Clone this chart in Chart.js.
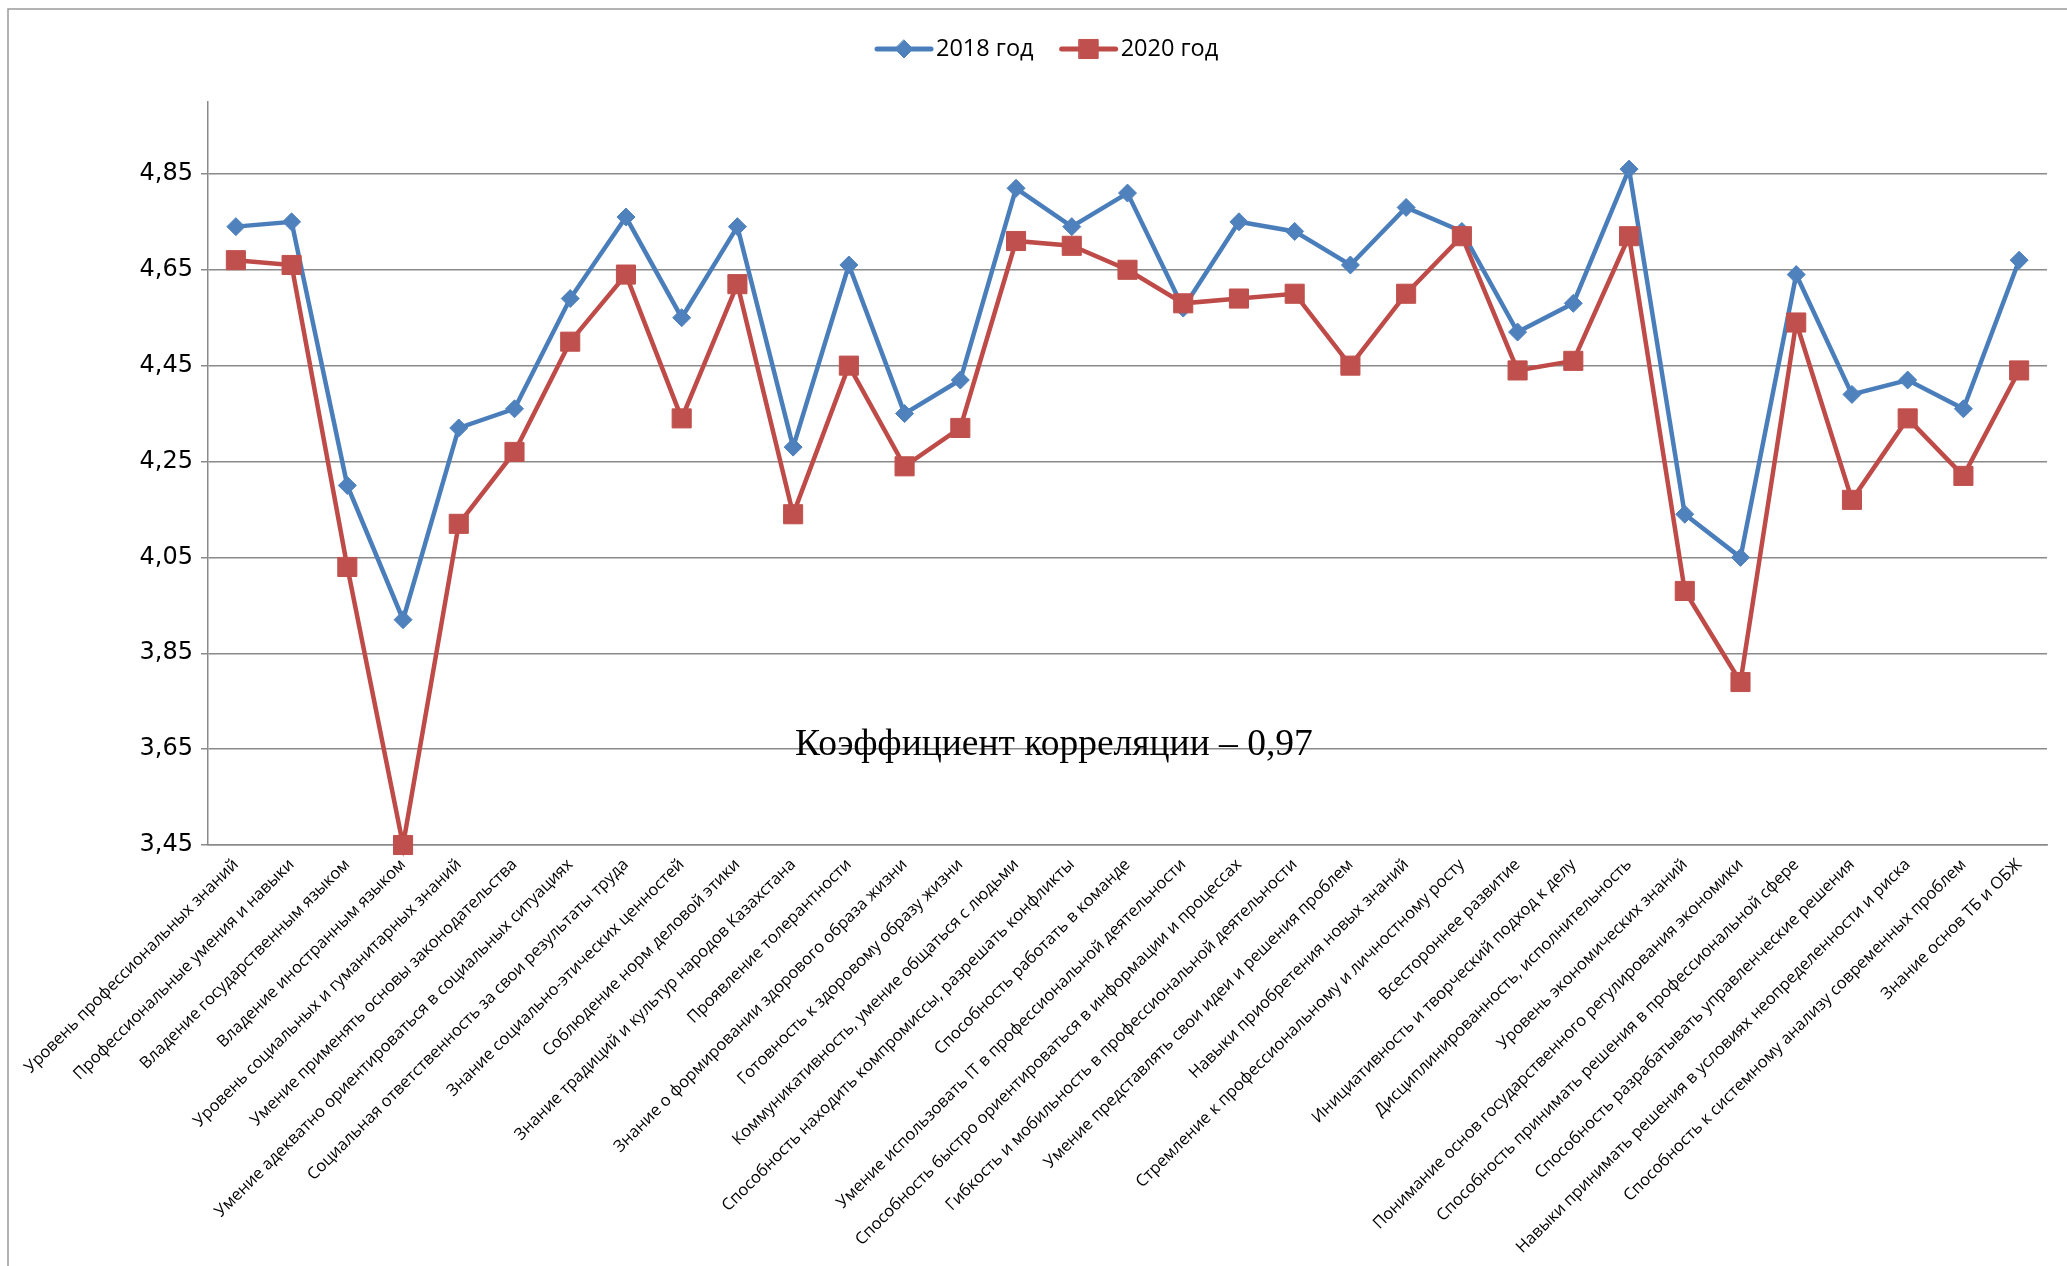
<!DOCTYPE html>
<html><head><meta charset="utf-8">
<script src="https://cdn.jsdelivr.net/npm/chart.js@4.4.1/dist/chart.umd.min.js"></script>
<style>html,body{margin:0;padding:0;background:#fff;overflow:hidden}</style>
</head><body>
<canvas id="c" width="2067" height="1266"></canvas>
<script>
const categories = [
  'Уровень профессиональных знаний',
  'Профессиональные умения и навыки',
  'Владение государственным языком',
  'Владение иностранным языком',
  'Уровень социальных и гуманитарных знаний',
  'Умение применять основы законодательства',
  'Умение адекватно ориентироваться в социальных ситуациях',
  'Социальная ответственность за свои результаты труда',
  'Знание социально-этических ценностей',
  'Соблюдение норм деловой этики',
  'Знание традиций и культур народов Казахстана',
  'Проявление толерантности',
  'Знание о формировании здорового образа жизни',
  'Готовность к здоровому образу жизни',
  'Коммуникативность, умение общаться с людьми',
  'Способность находить компромиссы, разрешать конфликты',
  'Способность работать в команде',
  'Умение использовать IT в профессиональной деятельности',
  'Способность быстро ориентироваться в информации и процессах',
  'Гибкость и мобильность в профессиональной деятельности',
  'Умение представлять свои идеи и решения проблем',
  'Навыки приобретения новых знаний',
  'Стремление к профессиональному и личностному росту',
  'Всестороннее развитие',
  'Инициативность и творческий подход к делу',
  'Дисциплинированность, исполнительность',
  'Уровень экономических знаний',
  'Понимание основ государственного регулирования экономики',
  'Способность принимать решения в профессиональной сфере',
  'Способность разрабатывать управленческие решения',
  'Навыки принимать решения в условиях неопределенности и риска',
  'Способность к системному анализу современных проблем',
  'Знание основ ТБ и ОБЖ'
];
const seriesNames = ['2018 год', '2020 год'];
const values2018 = [4.74, 4.75, 4.20, 3.92, 4.32, 4.36, 4.59, 4.76, 4.55, 4.74, 4.28, 4.66, 4.35, 4.42, 4.82, 4.74, 4.81, 4.57, 4.75, 4.73, 4.66, 4.78, 4.73, 4.52, 4.58, 4.86, 4.14, 4.05, 4.64, 4.39, 4.42, 4.36, 4.67];
const values2020 = [4.67, 4.66, 4.03, 3.45, 4.12, 4.27, 4.50, 4.64, 4.34, 4.62, 4.14, 4.45, 4.24, 4.32, 4.71, 4.70, 4.65, 4.58, 4.59, 4.60, 4.45, 4.60, 4.72, 4.44, 4.46, 4.72, 3.98, 3.79, 4.54, 4.17, 4.34, 4.22, 4.44];
const yTickValues = [3.45, 3.65, 3.85, 4.05, 4.25, 4.45, 4.65, 4.85];
const yMin = 3.45, yMax = 5.0;
const annotationText = 'Коэффициент корреляции – 0,97';
const annotationAt = { index: 14.68, value: 3.638 };

const BLUE_LINE = '#4A7EBB', BLUE_FILL = '#4F81BD';
const RED_LINE = '#BE4B48', RED_FILL = '#C0504D';
const GRID = '#8a8a8a';

function drawMarker(ctx, style, x, y, r, fill) {
  ctx.save();
  ctx.fillStyle = fill; ctx.strokeStyle = fill; ctx.lineWidth = 1;
  ctx.beginPath();
  if (style === 'rectRot') {
    ctx.moveTo(x, y - r); ctx.lineTo(x + r, y); ctx.lineTo(x, y + r); ctx.lineTo(x - r, y); ctx.closePath();
  } else {
    const s = r * Math.SQRT1_2;
    ctx.rect(x - s, y - s, 2 * s, 2 * s);
  }
  ctx.fill(); ctx.stroke();
  ctx.restore();
}

const framePlugin = {
  id: 'frame',
  beforeDraw(chart) {
    const ctx = chart.ctx;
    ctx.save();
    ctx.fillStyle = '#fff';
    ctx.fillRect(0, 0, chart.width, chart.height);
    ctx.strokeStyle = '#9a9a9a'; ctx.lineWidth = 1.5;
    ctx.beginPath();
    ctx.moveTo(8, chart.height + 5); ctx.lineTo(8, 9); ctx.lineTo(chart.width + 5, 9);
    ctx.stroke();
    ctx.restore();
  }
};

const legendPlugin = {
  id: 'customLegend',
  afterDraw(chart) {
    const ctx = chart.ctx;
    ctx.save();
    ctx.font = '23.5px "Open Sans"';
    ctx.textBaseline = 'middle';
    ctx.fillStyle = '#000';
    const y = 49;
    let x = 877;
    chart.data.datasets.forEach((ds) => {
      ctx.strokeStyle = ds.borderColor; ctx.lineWidth = 5; ctx.lineCap = 'round';
      ctx.beginPath(); ctx.moveTo(x, y); ctx.lineTo(x + 54, y); ctx.stroke();
      drawMarker(ctx, ds.pointStyle, x + 27, y, ds.pointRadius, ds.pointBackgroundColor);
      ctx.fillStyle = '#000';
      ctx.textAlign = 'left';
      ctx.fillText(ds.label, x + 59, y);
      x += 59 + ctx.measureText(ds.label).width + 28;
    });
    ctx.restore();
  }
};

const annotationPlugin = {
  id: 'annotationText',
  afterDatasetsDraw(chart) {
    const ctx = chart.ctx;
    const x = chart.scales.x.getPixelForValue(annotationAt.index);
    const y = chart.scales.y.getPixelForValue(annotationAt.value);
    ctx.save();
    ctx.font = '37.5px "Liberation Serif"';
    ctx.fillStyle = '#000';
    ctx.textAlign = 'center';
    ctx.textBaseline = 'alphabetic';
    ctx.fillText(annotationText, x, y);
    ctx.restore();
  }
};

new Chart(document.getElementById('c'), {
  type: 'line',
  data: {
    labels: categories,
    datasets: [
      {
        label: seriesNames[0], data: values2018, order: 1,
        borderColor: BLUE_LINE, borderWidth: 4.5, tension: 0,
        pointStyle: 'rectRot', pointRadius: 9, pointHoverRadius: 9,
        pointBackgroundColor: BLUE_FILL, pointBorderColor: BLUE_FILL, pointBorderWidth: 1,
        clip: false
      },
      {
        label: seriesNames[1], data: values2020, order: 0,
        borderColor: RED_LINE, borderWidth: 4.5, tension: 0,
        pointStyle: 'rect', pointRadius: 13.5, pointHoverRadius: 13.5,
        pointBackgroundColor: RED_FILL, pointBorderColor: RED_FILL, pointBorderWidth: 1,
        clip: false
      }
    ]
  },
  options: {
    responsive: false,
    animation: false,
    devicePixelRatio: 1,
    events: [],
    layout: { padding: { left: 0, top: 102, right: 20, bottom: 0 } },
    plugins: { legend: { display: false }, tooltip: { enabled: false } },
    scales: {
      x: {
        type: 'category',
        offset: true,
        grid: { display: false, drawTicks: true, tickLength: 6 },
        border: { display: true, color: GRID, width: 1.5 },
        ticks: {
          autoSkip: false, maxRotation: 45, minRotation: 45,
          color: '#000', font: { family: 'Open Sans', size: 16.5 }, padding: 4
        },
        afterFit(scale) { scale.height = 1266 - 845; }
      },
      y: {
        min: yMin, max: yMax,
        afterBuildTicks(scale) { scale.ticks = yTickValues.map(v => ({ value: v })); },
        grid: { color: GRID, lineWidth: 1.5, drawTicks: true, tickLength: 7 },
        border: { display: true, color: GRID, width: 1.5 },
        ticks: {
          color: '#000', font: { family: 'DejaVu Sans', size: 24 }, padding: 8,
          callback: (v) => Number(v).toFixed(2).replace('.', ',')
        },
        afterFit(scale) { scale.width = 208; }
      }
    }
  },
  plugins: [framePlugin, annotationPlugin, legendPlugin]
});
</script>
</body></html>
